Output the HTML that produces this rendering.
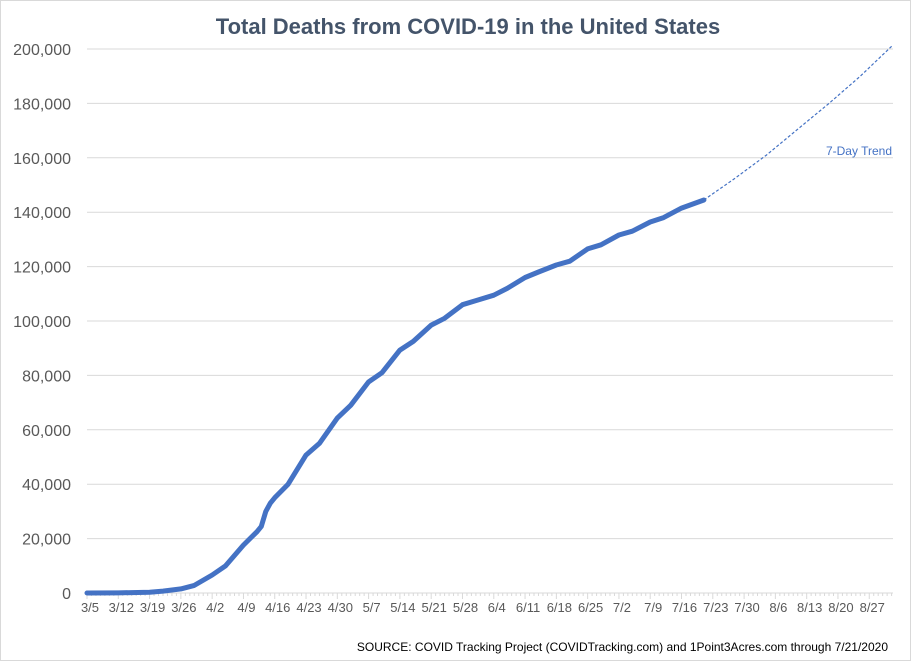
<!DOCTYPE html>
<html><head><meta charset="utf-8"><style>
html,body{margin:0;padding:0;background:#fff;}
svg{display:block;font-family:"Liberation Sans",sans-serif;}
</style></head><body>
<svg id="chart" width="911" height="661" viewBox="0 0 911 661">
<rect x="0.5" y="0.5" width="910" height="660" fill="#fff" stroke="#d9d9d9"/>
<text x="468" y="34" text-anchor="middle" font-size="22" font-weight="bold" fill="#44546A">Total Deaths from COVID-19 in the United States</text>
<g id="grid"></g><g id="yticks"></g><g id="xticks"></g><g id="series"></g>
<text x="892" y="155" text-anchor="end" font-size="12" fill="#4472C4">7-Day Trend</text>
<text x="888" y="651" text-anchor="end" font-size="12" fill="#000">SOURCE: COVID Tracking Project (COVIDTracking.com) and 1Point3Acres.com through 7/21/2020</text>
</svg>
<script>
const yTicks=[0,20000,40000,60000,80000,100000,120000,140000,160000,180000,200000];
const xLabels=["3/5","3/12","3/19","3/26","4/2","4/9","4/16","4/23","4/30","5/7","5/14","5/21","5/28","6/4","6/11","6/18","6/25","7/2","7/9","7/16","7/23","7/30","8/6","8/13","8/20","8/27"];
const days=  [0,7,10,14,17,21,24,28,31,35,38,39,40,41,42,45,49,52,56,59,63,66,70,73,77,80,84,87,91,94,98,101,105,108,112,115,119,122,126,129,133,138];
const deaths=[12,50,150,300,700,1500,2800,6600,10000,17600,22500,24500,30000,33000,35000,40000,50700,55000,64300,69000,77600,81000,89300,92500,98500,101000,106000,107500,109500,112000,116000,118000,120600,122000,126500,128000,131600,133000,136400,138000,141500,144500];
const trendDays=[138,145,152,159,166,173,180];
const trendDeaths=[144500,152500,161000,170500,180000,190000,201000];
const x0=87,pxDay=4.47,yBase=593,yTop=49;
const xs=d=>x0+d*pxDay;
const ys=v=>yBase-(v/200000)*(yBase-yTop);
const NS="http://www.w3.org/2000/svg";
function mk(tag,attrs,parent){const e=document.createElementNS(NS,tag);for(const k in attrs)e.setAttribute(k,attrs[k]);document.getElementById(parent).appendChild(e);return e;}
yTicks.forEach(v=>{
 if(v>0){const g=mk('line',{x1:x0,x2:893,y1:ys(v),y2:ys(v),stroke:'#d9d9d9','stroke-width':1},'grid');
 
 }
 const t=mk('text',{x:71,y:ys(v)+6,'text-anchor':'end','font-size':16,fill:'#595959'},'yticks');t.textContent=v.toLocaleString('en-US');
 
 
});
const ax=mk('line',{x1:x0,x2:893,y1:yBase,y2:yBase,stroke:'#d9d9d9','stroke-width':1},'xticks');


for(let d=0;d<=180;d++){const major=d%7===0;const l=mk('line',{x1:xs(d),x2:xs(d),y1:yBase,y2:yBase+(major?6:3),stroke:'#d9d9d9'},'xticks');
 
 }
xLabels.forEach((s,i)=>{const t=mk('text',{x:xs(i*7)+3,y:612,'text-anchor':'middle','font-size':13,fill:'#595959'},'xticks');t.textContent=s;
 
 });
const n=Math.min(days.length,deaths.length);
const pts=[];
for(let i=0;i<n;i++)pts.push(xs(days[i]).toFixed(1)+','+ys(deaths[i]).toFixed(1));
const p=mk('polyline',{points:pts.join(' '),fill:'none',stroke:'#4472C4','stroke-width':5,'stroke-linejoin':'round','stroke-linecap':'round'},'series');


const tp=mk('polyline',{points:trendDays.map((d,i)=>xs(d).toFixed(1)+','+ys(trendDeaths[i]).toFixed(1)).join(' '),fill:'none',stroke:'#4472C4','stroke-width':1.2,'stroke-dasharray':'3,2'},'series');


</script>
</body></html>
